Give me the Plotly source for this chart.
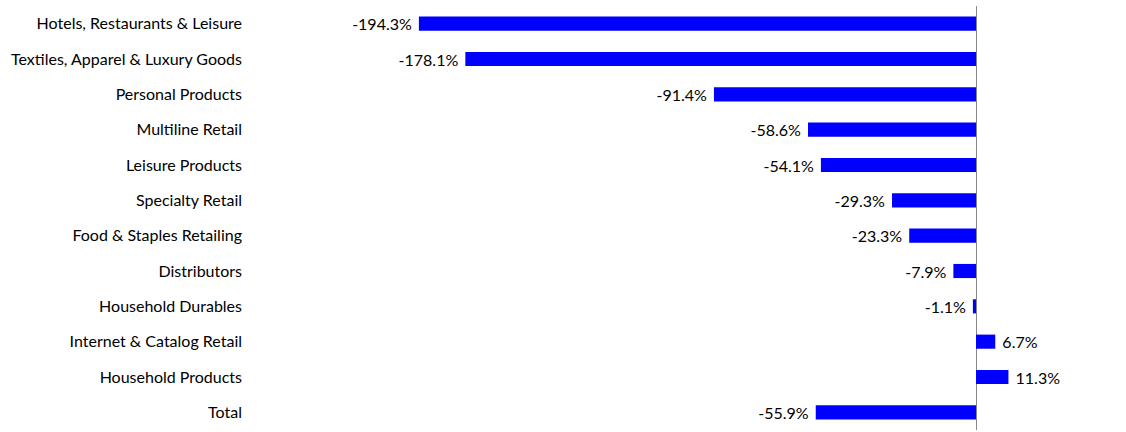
import plotly.graph_objects as go

categories = [
    "Hotels, Restaurants & Leisure",
    "Textiles, Apparel & Luxury Goods",
    "Personal Products",
    "Multiline Retail",
    "Leisure Products",
    "Specialty Retail",
    "Food & Staples Retailing",
    "Distributors",
    "Household Durables",
    "Internet & Catalog Retail",
    "Household Products",
    "Total",
]
values = [-194.3, -178.1, -91.4, -58.6, -54.1, -29.3, -23.3, -7.9, -1.1, 6.7, 11.3, -55.9]
labels = [(f"{v:.1f}%\u00a0" if v < 0 else f"\u00a0{v:.1f}%") for v in values]

FONT = "Lato, Calibri, Carlito, sans-serif"
FS = 16

fig = go.Figure(
    go.Bar(
        x=values,
        y=categories,
        orientation="h",
        marker=dict(color="#0000FF", line=dict(width=0)),
        text=labels,
        textposition="outside",
        constraintext="none",
        textfont=dict(family=FONT, size=FS, color="#000000"),
        cliponaxis=False,
    )
)

fig.update_layout(
    width=1126,
    height=432,
    margin=dict(l=250, r=0, t=6, b=2, autoexpand=False),
    paper_bgcolor="white",
    plot_bgcolor="white",
    bargap=0.6,
    showlegend=False,
    font=dict(family=FONT, size=FS, color="#000000"),
)
fig.update_xaxes(
    range=[-253.2, 52.3],
    showgrid=False,
    showticklabels=False,
    zeroline=True,
    zerolinecolor="#888888",
    zerolinewidth=1,
    ticks="",
    fixedrange=True,
    automargin=False,
)
fig.update_yaxes(
    autorange="reversed",
    showgrid=False,
    ticks="",
    ticklabelstandoff=7,
    tickfont=dict(family=FONT, size=FS, color="#000000"),
    showline=False,
    automargin=False,
)

fig.write_html(
    "out.html",
    config={"displayModeBar": False},
    post_script="document.body.style.margin='0';document.body.style.overflow='hidden';",
)
